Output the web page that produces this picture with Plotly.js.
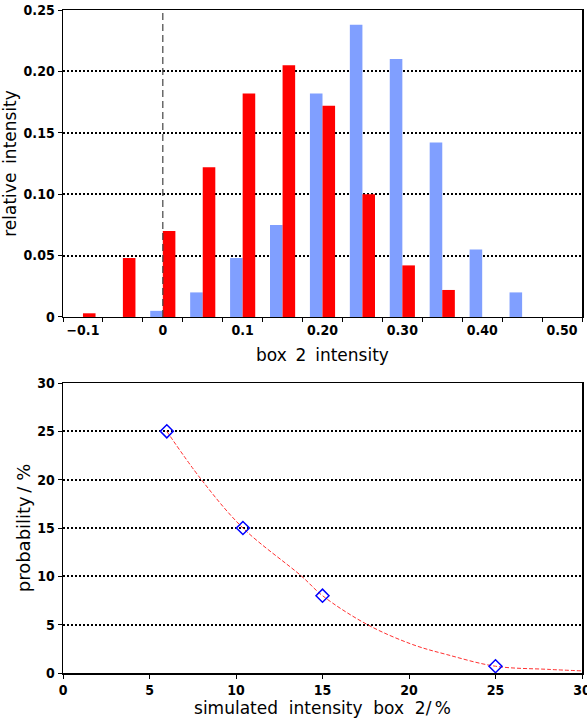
<!DOCTYPE html>
<html>
<head>
<meta charset="utf-8">
<script src="https://cdn.plot.ly/plotly-3.0.1.min.js"></script>
<style>html,body{margin:0;padding:0;background:#fff;}#chart{width:587px;height:722px;}</style>
</head>
<body>
<div id="chart"></div>
<script>
// ---- Top panel: histogram of box 2 intensity ----
const binCenters = [-0.1, -0.05, 0, 0.05, 0.1, 0.15, 0.2, 0.25, 0.3, 0.35, 0.4, 0.45];
const blueValues = [0, 0, 0.005, 0.020, 0.048, 0.075, 0.182, 0.238, 0.210, 0.142, 0.055, 0.020];
const redValues  = [0.003, 0.048, 0.070, 0.122, 0.182, 0.205, 0.172, 0.100, 0.042, 0.022, 0, 0];
const topXTickVals = [-0.1, 0, 0.1, 0.2, 0.3, 0.4, 0.5];
const topXTickText = ['\u22120.1', '0', '0.1', '0.20', '0.30', '0.40', '0.50'];
const topYTickVals = [0, 0.05, 0.10, 0.15, 0.20, 0.25];
const topYTickText = ['0', '0.05', '0.10', '0.15', '0.20', '0.25'];

// ---- Bottom panel: probability vs simulated intensity ----
const simPointsX = [6, 10.4, 15, 25];
const simPointsY = [25, 15, 8, 0.7];
const curveX = [6, 8, 10.4, 13.8, 15, 17.6, 20.2, 22.2, 25, 28, 30];
const curveY = [25, 20, 15, 10, 8, 5, 2.95, 1.9, 0.7, 0.38, 0.22];
const botTickVals = [0, 5, 10, 15, 20, 25, 30];
const botTickText = ['0', '5', '10', '15', '20', '25', '30'];

const tickFont = {family: 'Liberation Sans Narrow, DejaVu Sans Condensed, Arial, sans-serif', size: 14, color: '#000', weight: 'bold'};
const titleFont = {family: 'DejaVu Sans, sans-serif', size: 17, color: '#000'};
const sp = '\u00a0\u2009';
const sp2 = '\u00a0\u00a0';

const traces = [
  {type: 'bar', x: binCenters, y: blueValues, marker: {color: '#809fff'}, xaxis: 'x', yaxis: 'y', hoverinfo: 'skip'},
  {type: 'bar', x: binCenters, y: redValues, marker: {color: '#ff0000'}, xaxis: 'x', yaxis: 'y', hoverinfo: 'skip'},
  {type: 'scatter', mode: 'lines', x: curveX, y: curveY, line: {color: '#ff3030', width: 1, dash: '4px,2px', shape: 'spline', smoothing: 1}, xaxis: 'x2', yaxis: 'y2', hoverinfo: 'skip'},
  {type: 'scatter', mode: 'markers', x: simPointsX, y: simPointsY, marker: {symbol: 'diamond-open', size: 10, color: '#0000ff', line: {width: 1.5, color: '#0000ff'}}, xaxis: 'x2', yaxis: 'y2', hoverinfo: 'skip'}
];

const axisLine = {showline: true, mirror: true, linecolor: '#000', linewidth: 1.5, zeroline: false};
const grid = {showgrid: true, gridcolor: '#000', gridwidth: 2, griddash: '2px,2px'};

const layout = {
  width: 587, height: 722,
  margin: {l: 63, r: 5, t: 10, b: 49},
  paper_bgcolor: '#fff', plot_bgcolor: '#fff',
  showlegend: false,
  barmode: 'group', bargap: 0.37, bargroupgap: 0,
  xaxis: Object.assign({}, axisLine, {
    domain: [0, 1], anchor: 'y', range: [-0.125, 0.525],
    tickmode: 'array', tickvals: topXTickVals, ticktext: topXTickText,
    ticks: 'outside', ticklen: 0, tickfont: tickFont, showgrid: false,
    minor: {tick0: 0.025, dtick: 0.05, ticks: 'outside', ticklen: 4, tickcolor: '#000', showgrid: false},
    ticklabeloverflow: 'allow',
    title: {text: 'box' + sp + '2' + sp + 'intensity', font: titleFont, standoff: 12}
  }),
  yaxis: Object.assign({}, axisLine, grid, {
    domain: [0.537, 1], anchor: 'x', range: [0, 0.25],
    tickmode: 'array', tickvals: topYTickVals, ticktext: topYTickText,
    ticks: 'outside', ticklen: 4, tickcolor: '#000', tickfont: tickFont,
    title: {text: 'relative' + sp + 'intensity', font: titleFont, standoff: 4}
  }),
  xaxis2: Object.assign({}, axisLine, {
    domain: [0, 1], anchor: 'y2', range: [0, 30],
    tickmode: 'array', tickvals: botTickVals, ticktext: botTickText,
    ticks: 'outside', ticklen: 4, tickcolor: '#000', tickfont: tickFont, showgrid: false,
    ticklabeloverflow: 'allow',
    title: {text: 'simulated' + sp2 + 'intensity' + sp2 + 'box' + sp2 + '2/\u2009%', font: titleFont, standoff: 5}
  }),
  yaxis2: Object.assign({}, axisLine, grid, {
    domain: [0, 0.4374], anchor: 'x2', range: [0, 30],
    tickmode: 'array', tickvals: botTickVals, ticktext: botTickText,
    ticks: 'outside', ticklen: 4, tickcolor: '#000', tickfont: tickFont,
    title: {text: 'probability\u2009/\u00a0%', font: {family: 'DejaVu Sans, sans-serif', size: 18, color: '#000'}, standoff: 2}
  }),
  shapes: [
    {type: 'line', xref: 'x', yref: 'y domain', x0: 0, x1: 0, y0: 0, y1: 1, line: {color: '#444', width: 1.2, dash: '7px,4px'}}
  ]
};

Plotly.newPlot('chart', traces, layout, {staticPlot: true, displayModeBar: false});
</script>
</body>
</html>
